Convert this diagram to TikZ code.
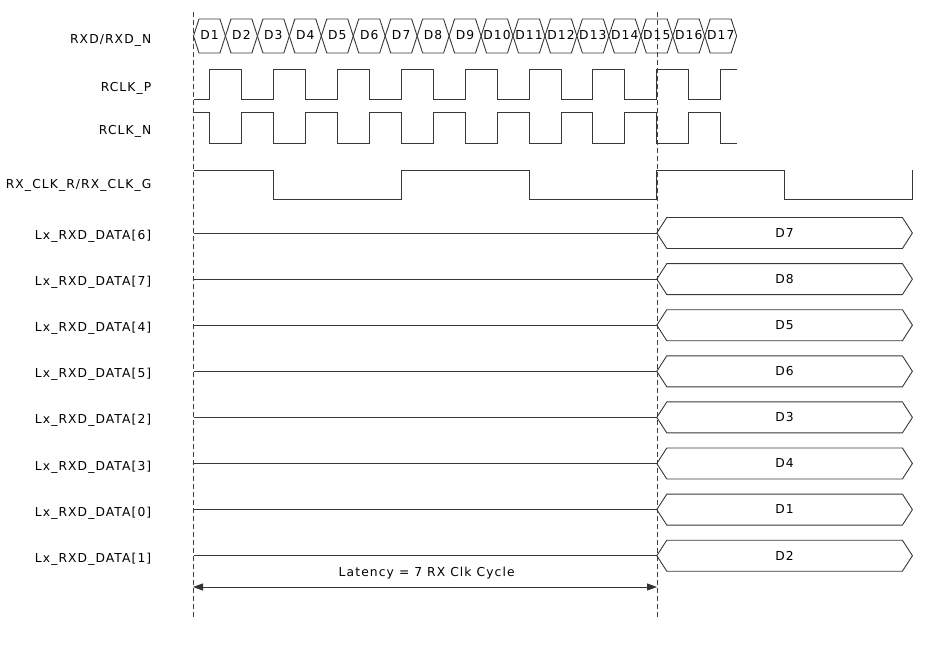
\documentclass[tikz,border=0pt]{standalone}
\usepackage{fontspec}
\setmainfont{DejaVu Sans}[LetterSpace=9]
\usetikzlibrary{arrows.meta}
\begin{document}
\begin{tikzpicture}[x=1pt,y=-1pt,
  font=\fontsize{12.3}{14}\selectfont,
  sig/.style={line width=0.9pt, draw=black!78},
  guide/.style={line width=0.9pt, draw=black!75, dash pattern=on 5pt off 3pt},
  lbl/.style={anchor=base east, inner sep=0pt},
  dtxt/.style={anchor=base, inner sep=0pt}]
\useasboundingbox (0,0) rectangle (938,645);

% signal names
\node[lbl] (nrxd)  at (151.5,43.3)  {RXD/RXD\_N};
\node[lbl] (nrclkp) at (151.5,91)   {RCLK\_P};
\node[lbl] (nrclkn) at (151.5,134)  {RCLK\_N};
\node[lbl] (nrxclk) at (151.5,188.3) {RX\_CLK\_R/RX\_CLK\_G};

% guides
\draw[guide] (193,12) -- (193,617);
\draw[guide] (657,12) -- (657,617);

% serial data hexagons
\foreach \i in {1,...,17}{
  \pgfmathsetmacro\a{193.5+(\i-1)*31.95}
  \pgfmathsetmacro\b{\a+31.95}
  \draw[sig] (\a,36) -- (\a+5.5,19) -- (\b-5.5,19) -- (\b,36) -- (\b-5.5,53) -- (\a+5.5,53) -- cycle;
  \node[dtxt] (rx\i) at ({(\a+\b)/2},39.5) {D\i};
}

% RCLK_P
\draw[sig] (193.5,99) \foreach \r in {209.5,273.4,337.3,401.2,465.1,529.0,592.9,656.8}{
  -- (\r,99) -- (\r,69) -- (\r+31.95,69) -- (\r+31.95,99)} -- (720.7,99) -- (720.7,69) -- (737,69);
% RCLK_N
\draw[sig] (193.5,112) \foreach \r in {209.5,273.4,337.3,401.2,465.1,529.0,592.9,656.8}{
  -- (\r,112) -- (\r,143) -- (\r+31.95,143) -- (\r+31.95,112)} -- (720.7,112) -- (720.7,143) -- (737,143);
% RX_CLK
\draw[sig] (193.5,170) -- (273.4,170) -- (273.4,199.5) -- (401.2,199.5) -- (401.2,170)
  -- (529,170) -- (529,199.5) -- (656.8,199.5) -- (656.8,170) -- (784.6,170)
  -- (784.6,199.5) -- (912.4,199.5) -- (912.4,170);

% parallel data rows
\foreach \k/\n/\d in {0/6/7,1/7/8,2/4/5,3/5/6,4/2/3,5/3/4,6/0/1,7/1/2}{
  \pgfmathsetmacro\y{233+46.1*\k}
  \node[lbl] (nl\n) at (151.5,\y+6.5) {Lx\_RXD\_DATA[\n]};
  \draw[sig] (193.5,\y) -- (656.8,\y);
  \draw[sig] (656.8,\y) -- (666.8,\y-15.5) -- (902.4,\y-15.5) -- (912.4,\y) -- (902.4,\y+15.5) -- (666.8,\y+15.5) -- cycle;
  \node[dtxt] (dv\n) at (784.6,\y+4.3) {D\d};
}

% latency
\coordinate (lat0) at (193,587);
\coordinate (lat1) at (657,587);
\draw[line width=0.9pt, draw=black!80, {Triangle[length=10pt,width=7pt]}-{Triangle[length=10pt,width=7pt]}] (lat0) -- (lat1);
\node[dtxt] (lat) at (426.7,576.7) {Latency = 7 RX Clk Cycle};
\end{tikzpicture}
\end{document}
